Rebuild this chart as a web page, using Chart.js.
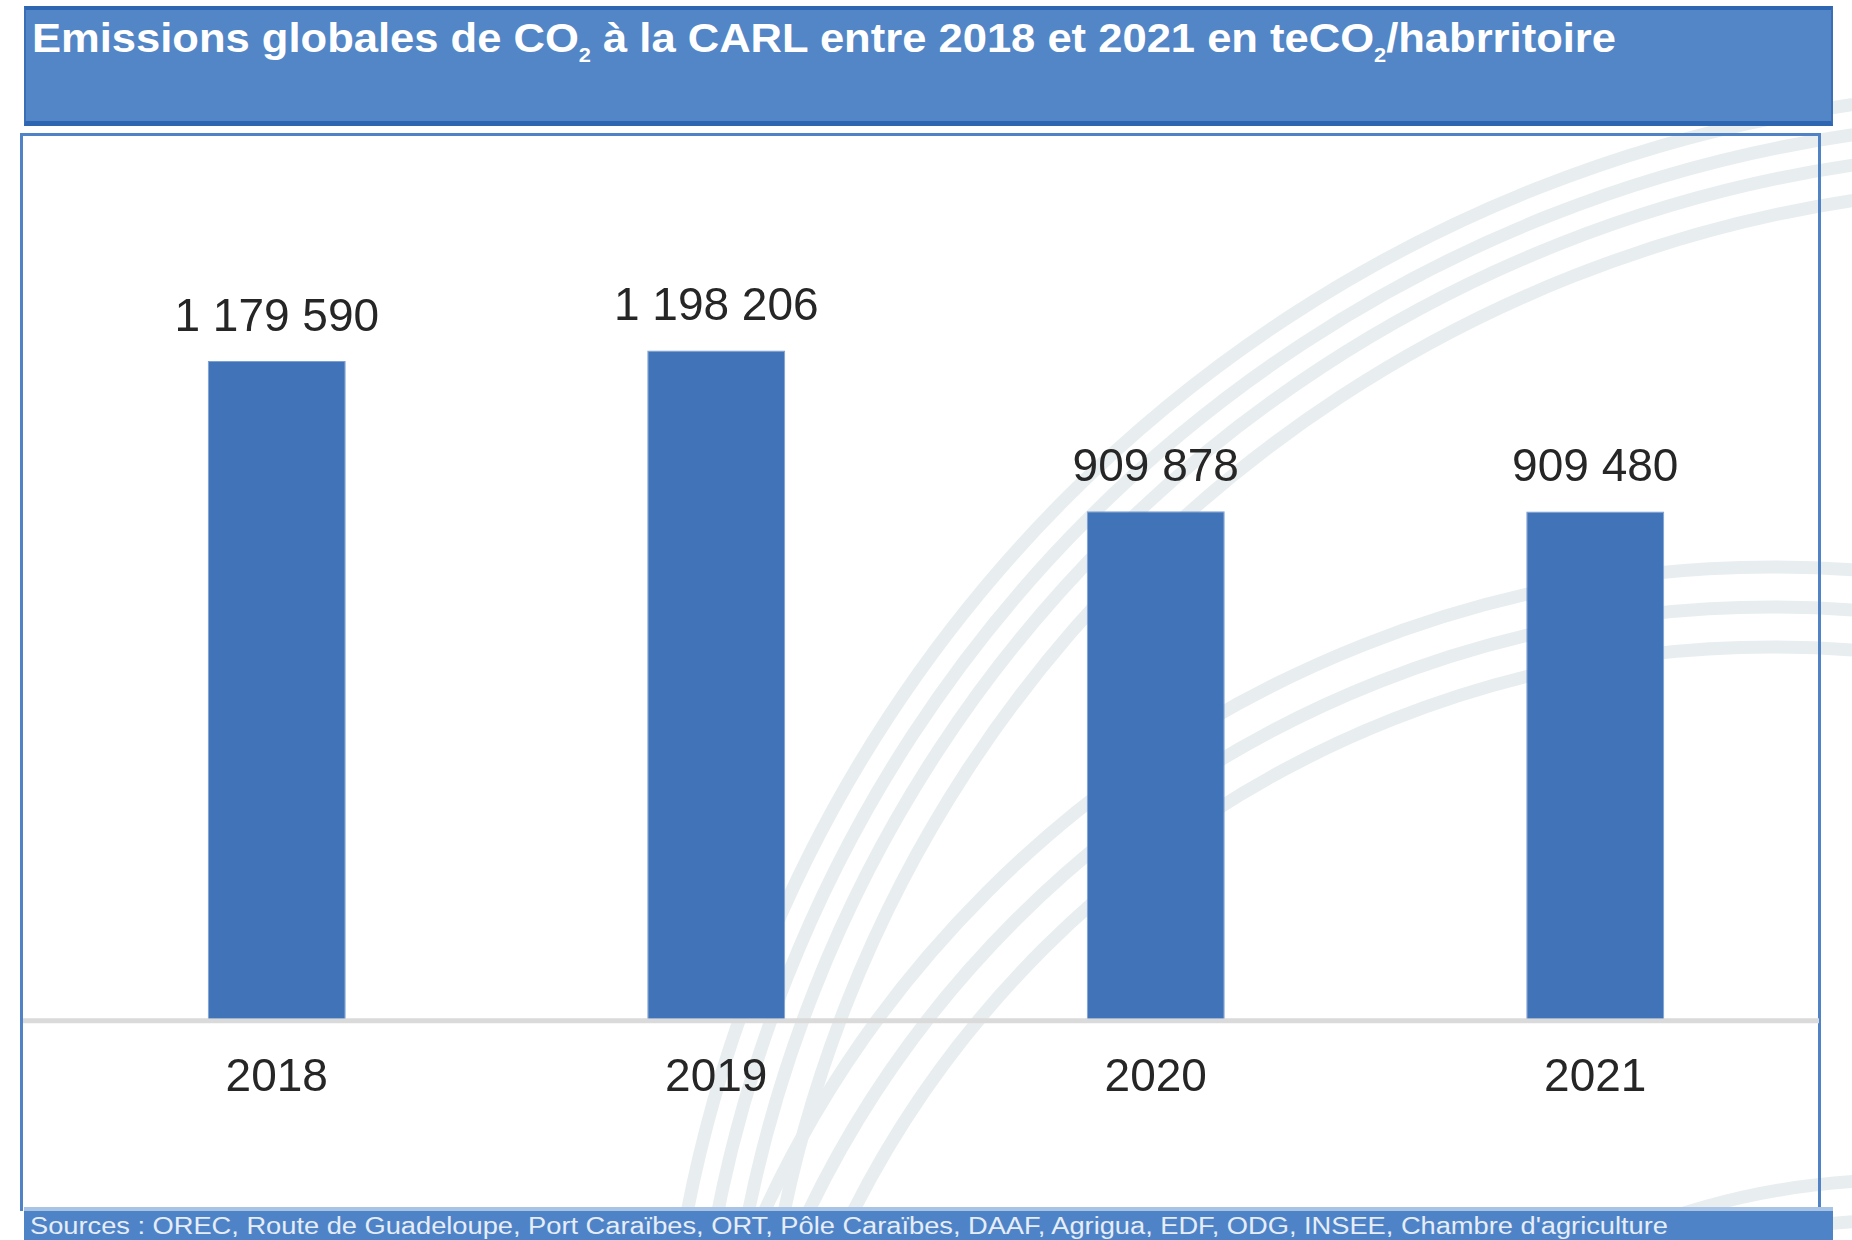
<!DOCTYPE html>
<html>
<head>
<meta charset="utf-8">
<script src="https://cdn.jsdelivr.net/npm/chart.js@4/dist/chart.umd.min.js"></script>
<style>
  html, body { margin:0; padding:0; background:#ffffff; }
  body { width:1852px; height:1240px; position:relative; overflow:hidden; font-family:"Liberation Sans", Arial, sans-serif; }
  #deco { position:absolute; left:0; top:0; width:1852px; height:1240px; z-index:0; }
  #titlebar { position:absolute; left:24px; top:6px; width:1809px; height:120px; box-sizing:border-box;
    background:#5286C6; border-top:4px solid #2F66B2; border-bottom:5px solid #2F66B2; border-left:2px solid #3A6FB8; border-right:2px solid #3A6FB8; z-index:3; }
  #title { position:absolute; left:6px; top:6px; color:#ffffff; font-weight:bold; font-size:40px; white-space:nowrap;
    transform-origin:0 0; letter-spacing:0px; }
  #title sub { font-size:20px; vertical-align:-10px; line-height:0; }
  #panel { position:absolute; left:20px; top:133px; width:1801px; height:1078px; box-sizing:border-box;
    border:3px solid #4F83C6; border-bottom:none; z-index:1; }
  #chartwrap { position:absolute; left:20px; top:133px; width:1801px; height:1074px; z-index:2; }
  #footer { position:absolute; left:24px; top:1207px; width:1809px; height:33px; background:#4E84C7; z-index:3;
    border-top:4px solid #A9C3E4; box-sizing:border-box; }
  #source { position:absolute; left:6px; top:2px; color:#E6EDF7; font-size:23px; white-space:nowrap; transform-origin:0 0; }
</style>
</head>
<body>
<svg id="deco" width="1852" height="1240" viewBox="0 0 1852 1240">
  <g fill="none" stroke="#E8EEF0" stroke-width="13">
    <circle cx="2047" cy="1476" r="1385"/>
    <circle cx="2047" cy="1476" r="1355"/>
    <circle cx="2047" cy="1476" r="1325"/>
    <circle cx="2047" cy="1476" r="1290"/>
    <circle cx="1772" cy="1677" r="1110"/>
    <circle cx="1772" cy="1677" r="1070"/>
    <circle cx="1772" cy="1677" r="1030"/>
    <circle cx="1900" cy="1900" r="720"/>
    <circle cx="1900" cy="1900" r="680"/>
    <circle cx="1900" cy="1900" r="640"/>
  </g>
</svg>
<div id="titlebar"><div id="title">Emissions globales de CO<sub>2</sub> à la CARL entre 2018 et 2021 en teCO<sub>2</sub>/habrritoire</div></div>
<div id="panel"></div>
<div id="chartwrap"><canvas id="c" width="1801" height="1074"></canvas></div>
<div id="footer"><div id="source">Sources : OREC, Route de Guadeloupe, Port Caraïbes, ORT, Pôle Caraïbes, DAAF, Agrigua, EDF, ODG, INSEE, Chambre d'agriculture</div></div>
<script>
const years = ["2018", "2019", "2020", "2021"];
const emissions = [1179590, 1198206, 909878, 909480];
const yMax = 1400000;

function fmt(v) { return String(v).replace(/\B(?=(\d{3})+(?!\d))/g, " "); }

const baseLine = {
  id: "baseLine",
  beforeDatasetsDraw(chart) {
    const y = chart.scales.y.getPixelForValue(0);
    const ctx = chart.ctx;
    ctx.save();
    ctx.strokeStyle = "#DADADA";
    ctx.lineWidth = 5;
    ctx.beginPath();
    ctx.moveTo(3, y + 2);
    ctx.lineTo(chart.width - 2, y + 2);
    ctx.stroke();
    ctx.restore();
  }
};

const valueLabels = {
  id: "valueLabels",
  afterDatasetsDraw(chart) {
    const ctx = chart.ctx;
    const meta = chart.getDatasetMeta(0);
    ctx.save();
    ctx.font = "46px 'Liberation Sans', Arial, sans-serif";
    ctx.fillStyle = "#262626";
    ctx.textAlign = "center";
    ctx.textBaseline = "bottom";
    meta.data.forEach((bar, i) => {
      ctx.fillText(fmt(emissions[i]), bar.x, bar.y - 20);
    });
    ctx.restore();
  }
};

new Chart(document.getElementById("c"), {
  type: "bar",
  data: {
    labels: years,
    datasets: [{
      data: emissions,
      backgroundColor: "#4173B9",
      borderColor: "#7A9FD2",
      borderWidth: 1,
      barPercentage: 1,
      categoryPercentage: 0.314
    }]
  },
  options: {
    responsive: false,
    animation: false,
    layout: { padding: { left: 37, right: 6, top: 105, bottom: 69 } },
    plugins: { legend: { display: false }, tooltip: { enabled: false }, title: { display: false } },
    scales: {
      y: { display: false, min: 0, max: yMax },
      x: {
        offset: true,
        grid: { display: false, drawTicks: false },
        border: { display: false },
        ticks: { color: "#262626", padding: 32, font: { family: "'Liberation Sans', Arial, sans-serif", size: 46 } }
      }
    }
  },
  plugins: [baseLine, valueLabels]
});

// fit title and footer text widths to the reference
(function(){
  const t = document.getElementById("title");
  const w = t.getBoundingClientRect().width;
  t.style.transform = "scaleX(" + (1584 / w) + ")";
  const s = document.getElementById("source");
  const ws = s.getBoundingClientRect().width;
  s.style.transform = "scaleX(" + (1638 / ws) + ")";
})();
</script>
</body>
</html>
